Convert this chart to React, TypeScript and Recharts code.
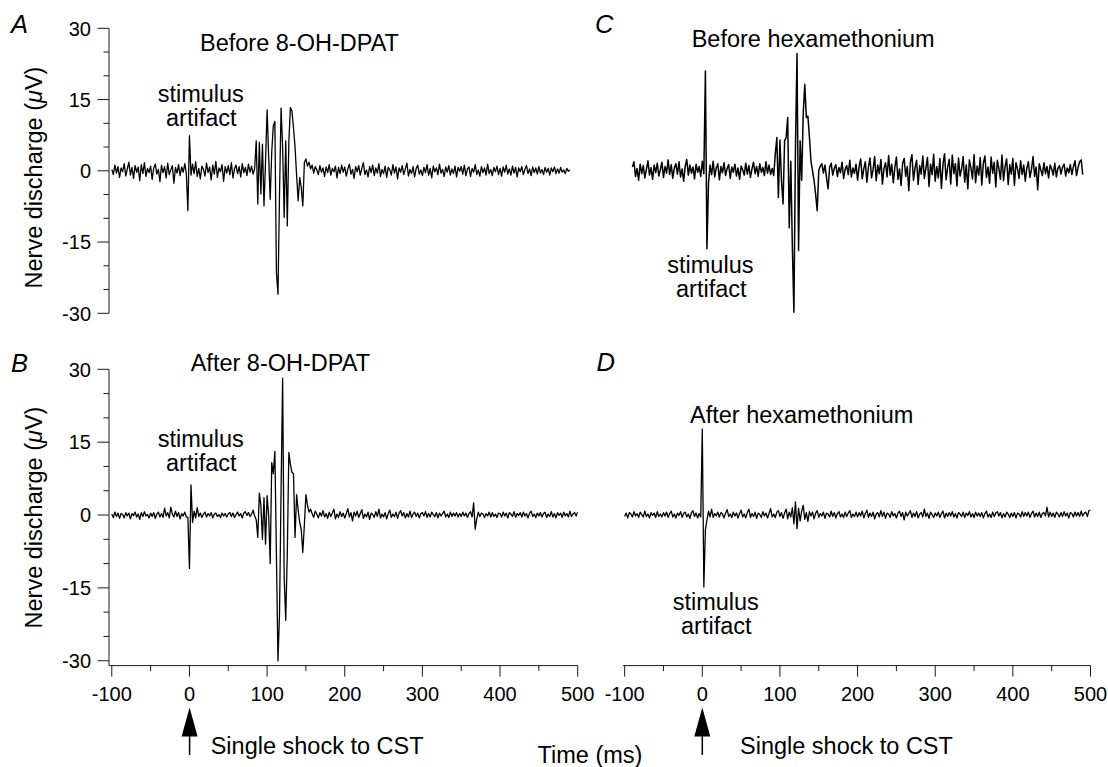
import React from 'react';
import { LineChart, Line, XAxis, YAxis } from 'recharts';

const FONT = '"Liberation Sans", Arial, Helvetica, sans-serif';

// sampling interval of the recorded traces (ms)
const STEP_MS = 2;

// Panel A: before 8-OH-DPAT (starts at -100 ms)
const A_START = -100;
const aValues = [
  0.3, -0.8, 1.2, -0.5, 0.9, -1.4, 0.6, -0.2, 1.5, -1.1, 0.4, 1.8, -0.9, 0.7, -1.6, 1.1, -0.3, 0.8, -2.1, 1.3, -0.6, 1.7, -1.2, 0.5, -0.4,
  1.0, -1.8, 0.6, 1.4, -0.7, 0.3, -2.3, 1.2, -0.4, 0.9, -1.5, 1.6, -0.8, 0.2, 1.1, -2.6, 0.7, -0.5, 1.3, -1.0, 0.8, -0.3, 1.5, -0.6, -8.4,
  7.4, -0.9, 1.4, -0.6, 1.9, -1.2, 0.5, -1.7, 1.0, 0.3, -1.1, 1.6, -0.4, 0.8, -1.9, 1.2, -0.7, 2.0, -1.4, 0.6, -0.2, 1.3, -2.2, 0.9, -0.5,
  1.1, -0.8, 1.7, -1.5, 0.4, 1.2, -0.6, 0.9, -1.3, 1.5, -0.4, 0.7, -1.0, 1.4, -0.3, 1.0, -0.7, 0.5, 6.3, -7, 6, -4.9, 5.6, -7.4, 2,
  12.8, 3, -6, 4, 9.5, 10.4, -21.4, -26, -5, 13.2, 5, -9.8, 6.3, -11.6, 6, 13.3, 12.6, 9, 5, -1, -6.3, -1.4, -3.5, -7.4, 1.75,
  2.5, 1.0, 1.8, 0.4, 1.2, -0.5, 0.9, 0.2, -0.8, 1.1, -0.3, 0.6, -1.2, 0.8, -0.4, 1.3, -0.9, 0.5, -0.2, 1.0, -1.5, 0.7, -0.6, 1.2, -0.3,
  0.8, -1.1, 0.4, 1.4, -0.7, 0.3, -1.6, 0.9, -0.2, 1.1, -0.9, 0.5, 1.7, -0.8, 0.2, -1.3, 0.9, -0.4, 1.2, -1.0, 0.6, -0.5, 1.5, -1.2, 0.3,
  -0.6, 1.0, -1.4, 0.7, 0.2, -0.9, 1.3, -0.5, 0.8, -1.7, 0.6, -0.3, 1.1, -0.8, 0.4, 1.6, -1.1, 0.3, -0.6, 0.9, -1.3, 0.5, 1.2, -0.7, 0.2,
  -1.0, 0.7, -0.4, 1.3, -0.9, 0.5, -1.5, 1.0, -0.2, 0.6, -0.8, 1.4, -0.5, 0.3, -1.2, 0.8, -0.3, 1.1, -0.9, 0.4, -0.6, 1.0, -1.3, 0.7, -0.1,
  0.9, -0.7, 1.2, -1.0, 0.4, 0.8, -1.2, 0.5, -0.3, 1.3, -0.8, 0.2, -1.1, 0.9, -0.4, 0.6, -0.9, 1.4, -0.6, 0.3, -1.0, 0.7, -0.2, 1.0, -0.8,
  0.5, -1.1, 0.8, -0.3, 1.2, -0.7, 0.4, -0.9, 1.0, -0.5, 0.7, -1.3, 0.6, -0.2, 0.9, -0.8, 0.3, 1.1, -0.6, 0.4, -1.0, 0.8, -0.4, 0.6, -0.7,
  0.9, -0.5, 0.3, -0.8, 0.7, -0.3, 0.5, -0.9, 0.6, -0.2, 0.8, -0.6, 0.4, -0.5, 0.7, -0.3, 0.2, -0.6, 0.5, -0.1, 0.2,
];

// Panel B: after 8-OH-DPAT
const B_START = -100;
const bValues = [
  0.2, -0.5, 0.6, -0.3, 0.4, -0.7, 0.3, 0.1, -0.6, 0.5, -0.2, 0.4, -0.8, 0.3, -0.1, 0.6, -0.4, 0.2, -0.9, 0.5, -0.3, 0.7, -0.2, 0.1, -0.6,
  0.4, -0.3, 0.5, -0.7, 0.2, 0.6, -0.4, 0.3, -0.5, 1.4, -0.2, 0.5, -0.6, 1.6, 0.2, -0.4, 0.8, -0.3, 0.5, -0.8, 0.3, -0.2, 0.6, -0.4, -0.5,
  -11, 6.2, -1.5, 0.8, -0.6, 1.5, -0.3, 0.4, -0.5, 0.2, 0.6, -0.4, 0.3, -0.2, 0.5, -0.6, 0.2, 0.4, -0.3, 0.1, -0.5, 0.4, -0.2, 0.3, -0.4,
  0.2, 0.5, -0.3, 0.4, -0.5, 0.1, 0.6, -0.2, 0.3, -0.6, 0.4, 0.7, -0.1, 0.5, -0.3, 0.2, 1.0, -0.2, -1, -4.6, 4.5, 2, -5, 3.6, -6,
  4, 0, -10, 10.8, 8.5, 13.1, -8, -30, -20.3, 5, 28.2, -12.8, -21.7, -8, 12.9, 10.5, 8.8, 8.5, -4.6, 4.2, 1, -1.5, -3, -7.7, -2,
  4.2, 2, 0.6, 1.2, 0.3, -0.5, 0.8, 0.2, -0.6, 0.5, -0.2, 0.9, -0.4, 0.3, -0.7, 0.6, -0.3, 0.4, 1.2, -0.8, 0.2, -0.5, 0.7, -0.3, 0.4,
  -0.6, 0.3, 1.3, -0.4, 0.5, -1.2, 0.6, -0.2, 0.8, -0.5, 0.3, 1.1, -0.7, 0.2, -0.4, 0.6, -0.9, 0.4, 0.1, -0.5, 0.7, -0.3, 1.2, -0.6, 0.2,
  -0.4, 0.5, -0.8, 0.3, 1.0, -0.5, 0.2, -0.3, 0.6, -0.7, 0.4, 0.9, -0.2, 0.5, -0.6, 0.3, -0.4, 0.8, -0.5, 0.2, 0.6, -0.3, 0.4, -0.6, 0.3,
  0.5, -0.2, 0.7, -0.5, 0.3, -0.4, 0.6, 0.1, -0.3, 0.5, -0.6, 0.4, -0.2, 0.3, 0.8, -0.4, 0.2, -0.5, 0.6, -0.3, 0.4, -0.2, 0.5, -0.4, 0.3,
  -0.3, 0.6, -0.2, 0.4, -0.5, 0.3, 0.7, -0.4, 2.5, -2.9, -0.8, 0.6, -0.3, 0.4, 0.2, -0.5, 0.3, -0.2, 0.6, -0.4, 0.5, -0.3, 0.2, -0.5, 0.4,
  0.3, -0.4, 0.6, -0.2, 0.4, -0.6, 0.5, 0.2, -0.3, 0.7, -0.5, 0.3, -0.1, 0.5, -0.4, 0.6, -0.2, 0.3, -0.6, 0.4, 0.8, -0.3, 0.2, -0.5, 0.4,
  -0.2, 0.5, -0.4, 0.3, 0.6, -0.5, 0.2, -0.3, 0.7, -0.4, 0.3, -0.6, 0.5, -0.1, 0.4, -0.5, 0.6, -0.2, 0.3, -0.4, 0.8, -0.3, 0.2, 0.5, -0.2,
  0.6,
];

// Panel C: before hexamethonium (starts at -90 ms)
const C_START = -90;
const cValues = [
  0.8, 1.9, -1.2, 0.5, -2.0, 1.4, -0.6, 1.1, -1.5, 0.3, 2.1, -0.9, 0.7, -1.8, 1.2, -0.4, 1.6, -1.1, 0.2, 1.8, -1.4, 0.9, -0.5, 2.3, -0.8,
  1.3, -1.6, 0.6, 1.5, -0.7, 1.9, -1.3, 0.4, -2.2, 1.0, 2.4, -0.9, 1.2, -0.5, 0.8, -1.7, 1.4, -0.3, 0.9, -1.2, 2.0, -0.6, 21, -16.4, -2.5,
  1.2, -0.8, 2.0, -1.3, 0.6, 1.5, -1.9, 0.9, -0.4, 1.7, -1.0, 0.5, 1.3, -1.6, 0.8, -0.3, 1.4, -1.1, 0.6, -1.8, 1.0, 0.2, -0.9, 1.6, -0.7,
  1.1, -1.4, 0.4, 1.8, -0.6, 0.9, -1.2, 1.5, -0.3, 0.7, -1.0, 1.9, -0.5, 1.2, -0.8, 0.5, -1, 3.5, 7, -5.6, 6.5, -2.1, -7, 6.3, 7,
  11.2, -12, 2, -16, -29.8, 5, 24.7, -16.8, 6.3, -2, 12, 18.2, 11.2, 11.5, 7, 2, 0, -2.1, -5, -8.4, 0, 1, 1.5, -0.5, 1.2,
  -1.5, -3.8, 0.8, 1.6, -0.9, 0.5, 1.3, -1.2, 0.7, -0.4, 1.8, -1.6, 0.3, 1.1, -0.8, 2.2, -1.3, 0.6, -0.5, 1.4, -2.0, 0.9, 2.5, -1.7, 0.4,
  1.9, -2.4, 0.8, 2.7, -1.5, 0.3, 3.0, -2.1, 1.2, -0.6, 2.4, -2.8, 0.5, 1.7, -1.3, 3.2, -0.9, 1.4, -2.5, 0.7, 2.9, -1.8, 0.4, -3.1, 1.6,
  2.6, -1.2, 0.9, -4.2, 1.8, 3.4, -2.0, 0.6, 2.2, -2.9, 1.1, -0.7, 3.1, -1.6, 0.5, 2.8, -3.3, 1.4, -0.8, 3.5, -2.2, 0.9, -1.5, 2.6, -3.7,
  1.3, 3.6, -1.9, 0.7, 2.4, -2.8, 3.3, -0.6, 1.5, -3.2, 2.7, -1.1, 0.4, 3.0, -2.4, 1.2, -3.8, 2.3, 0.6, -1.7, 3.4, -2.5, 1.0, -0.9, 2.8,
  -3.0, 1.6, 3.1, -1.4, 0.8, -2.6, 2.9, -0.5, 1.8, -3.4, 2.2, 0.5, -1.8, 3.3, -2.1, 0.9, 2.5, -2.9, 1.3, -0.7, 2.6, -3.1, 1.7, 0.4, -1.6,
  2.1, -0.8, 1.2, -2.2, 0.6, 1.9, -1.4, 0.3, 3.0, -1.2, 0.8, -4.0, 1.5, 0.2, -1.0, 1.7, -0.6, 0.9, -1.5, 1.2, 0.4, -0.9, 1.6, -1.3, 0.5,
  1.1, -0.7, 0.8, 1.4, -1.1, 0.6, -0.4, 1.3, -0.8, 0.9, 2.1, -1.0, 0.7, 1.9, 2.3, -0.8,
];

// Panel D: after hexamethonium
const D_START = -100;
const dValues = [
  -0.3, 0.4, -0.6, 0.5, 0.2, -0.4, 0.7, -0.2, 0.3, -0.5, 0.6, 0.1, -0.4, 0.8, -0.3, 0.2, -0.6, 0.5, -0.1, 0.4, -0.5, 0.7, -0.3, 0.2, -0.4,
  0.5, -0.2, 0.6, -0.5, 0.3, 0.8, -0.4, 0.2, -0.6, 0.4, -0.1, 0.7, -0.5, 0.3, 0.6, -0.4, 0.2, -0.7, 0.5, 0.9, -0.3, 0.4, -0.6, 0.3, -0.4,
  17.7, -14.8, -3, -1, 0.8, -0.4, 1.2, -0.5, 0.3, -0.2, 0.6, -0.4, 0.5, 0.2, -0.6, 0.4, 1.1, -0.3, 0.2, -0.5, 0.6, -0.2, 0.4, -0.6, 0.3,
  1.0, -0.4, 0.2, -0.6, 0.5, 1.2, -0.5, 0.3, -0.3, 0.6, -0.7, 0.4, 0.1, -0.5, 0.7, -0.2, 0.4, -0.6, 0.3, 1.3, -0.4, 0.2, -0.5, 0.6, 0.9,
  -0.3, 0.5, -0.7, 0.4, 1.2, -0.8, 0.6, -0.4, 1.5, -1.8, 2.7, -2.8, 1.4, -1.2, 0.8, 2.0, -0.9, 0.5, -1.3, 0.7, -0.2, 0.6, -0.8, 0.4, 0.9,
  -0.5, 0.3, -0.2, 0.6, -0.7, 0.4, 0.2, -0.4, 0.8, -0.3, 0.5, -0.6, 0.3, 0.7, -0.4, 0.2, -0.5, 0.6, -0.3, 0.4, 0.9, -0.5, 0.2, -0.3, 0.6,
  -0.4, 0.5, -0.2, 0.8, -0.6, 0.3, 1.0, -0.5, 0.4, -0.3, 0.6, -0.8, 0.2, 0.5, -0.4, 0.9, -0.3, 0.6, -0.7, 0.4, 0.2, -0.5, 0.7, -0.2, 0.3,
  -0.6, 0.4, 0.8, -0.3, 0.5, -1.0, 0.6, -0.2, 0.3, 0.9, -0.5, 0.4, -0.3, 0.7, -0.6, 0.2, 0.5, -0.4, 1.2, -0.3, 0.4, -0.7, 0.6, 0.1, -0.5,
  0.4, -0.2, 0.6, -0.5, 0.3, 0.8, -0.6, 0.4, -0.3, 0.5, -0.2, 0.7, -0.4, 0.3, -0.6, 0.5, 0.2, -0.3, 0.6, -0.5, 0.4, -0.1, 0.7, -0.4, 0.3,
  -0.5, 0.6, -0.2, 0.4, -0.3, 0.5, -0.6, 0.3, 0.8, -0.4, 0.2, -0.5, 0.6, -0.3, 0.4, 0.7, -0.2, 0.5, -0.6, 0.3, -0.4, 0.6, 0.2, -0.5, 0.4,
  -0.3, 0.5, -0.6, 0.4, 0.2, -0.4, 0.7, -0.3, 0.5, -0.2, 0.6, -0.5, 0.3, 0.8, -0.4, 0.4, -0.3, 0.6, -0.5, 0.3, 0.5, -0.2, 1.6, -0.4, 0.6,
  -0.3, 0.4, -0.5, 0.6, 0.2, -0.4, 0.5, -0.3, 0.7, -0.2, 0.4, -0.6, 0.5, 0.3, -0.4, 0.6, -0.2, 0.5, -0.3, 0.8, -0.2, 0.4, 0.6, -0.3, 0.9,
  1.0,
];

// Axis ticks
const X_TICKS = [-100, -50, 0, 50, 100, 150, 200, 250, 300, 350, 400, 450, 500];
const X_LABEL_STEP = 100;
const Y_TICKS = [-30, -25, -20, -15, -10, -5, 0, 5, 10, 15, 20, 25, 30];
const Y_LABEL_STEP = 15;

const toSeries = (start: number, values: number[]) =>
  values.map((v, i) => ({ t: start + i * STEP_MS, v }));

const dataA = toSeries(A_START, aValues);
const dataB = toSeries(B_START, bValues);
const dataC = toSeries(C_START, cValues);
const dataD = toSeries(D_START, dValues);

const AXIS_COLOR = '#1a1a1a';

const XTick = (props: any) => {
  const { x, y, payload } = props;
  const major = payload.value % X_LABEL_STEP === 0;
  return (
    <g>
      <line x1={x} x2={x} y1={y} y2={y + (major ? 11 : 5.5)} stroke={AXIS_COLOR} strokeWidth={1} />
      {major && (
        <text x={x} y={y + 35.5} textAnchor="middle" fontSize={20} fontFamily={FONT} fill="#000">
          {payload.value}
        </text>
      )}
    </g>
  );
};

const YTick = (props: any) => {
  const { x, y, payload } = props;
  const major = payload.value % Y_LABEL_STEP === 0;
  return (
    <g>
      <line x1={x - (major ? 11.5 : 5.5)} x2={x} y1={y} y2={y} stroke={AXIS_COLOR} strokeWidth={1} />
      {major && (
        <text x={x - 18} y={y + 7.2} textAnchor="end" fontSize={20} fontFamily={FONT} fill="#000">
          {payload.value}
        </text>
      )}
    </g>
  );
};

const W = 1108;
const H = 767;

const layer: React.CSSProperties = { position: 'absolute', left: 0, top: 0, width: W, height: H };

type PanelProps = {
  data: { t: number; v: number }[];
  margin: { top: number; right: number; bottom: number; left: number };
  xDomain: [number, number];
  yDomain: [number, number];
  showX: boolean;
  showY: boolean;
  strokeWidth: number;
};

const Panel = ({ data, margin, xDomain, yDomain, showX, showY, strokeWidth }: PanelProps) => (
  <div style={layer}>
    <LineChart width={W} height={H} data={data} margin={margin}>
      <XAxis
        dataKey="t"
        type="number"
        domain={xDomain}
        allowDataOverflow
        ticks={X_TICKS}
        interval={0}
        hide={!showX}
        height={40}
        tickSize={0}
        tickMargin={0}
        axisLine={{ stroke: AXIS_COLOR, strokeWidth: 1 }}
        tickLine={false}
        tick={(p: any) => <XTick {...p} />}
      />
      <YAxis
        type="number"
        domain={yDomain}
        allowDataOverflow
        ticks={Y_TICKS}
        interval={0}
        hide={!showY}
        width={109}
        tickSize={0}
        tickMargin={0}
        axisLine={{ stroke: AXIS_COLOR, strokeWidth: 1 }}
        tickLine={false}
        tick={(p: any) => <YTick {...p} />}
      />
      <Line
        type="linear"
        dataKey="v"
        stroke="#000"
        strokeWidth={strokeWidth}
        dot={false}
        activeDot={false}
        isAnimationActive={false}
        strokeLinejoin="round"
      />
    </LineChart>
  </div>
);

const txt = { fontFamily: FONT, fontSize: 23.5, fill: '#000' };
const letter = { fontFamily: FONT, fontSize: 25.5, fontStyle: 'italic' as const, fill: '#000' };

const Arrow = ({ x }: { x: number }) => (
  <g>
    <polygon points={`${x},707.5 ${x - 8},736.5 ${x + 8},736.5`} fill="#000" />
    <line x1={x} x2={x} y1={736} y2={755} stroke="#000" strokeWidth={1.5} />
  </g>
);

const YTitle = ({ cx, cy }: { cx: number; cy: number }) => (
  <text
    transform={`translate(${cx},${cy}) rotate(-90)`}
    textAnchor="middle"
    {...txt}
  >
    Nerve discharge (<tspan fontStyle="italic">μ</tspan>V)
  </text>
);

export default function App() {
  const leftX: [number, number] = [-103.6, 500];
  const rightX: [number, number] = [-102, 500];
  return (
    <div style={{ position: 'absolute', left: 0, top: 0, width: W, height: H, overflow: 'hidden', background: '#fff' }}>
      <Panel
        data={dataA}
        margin={{ top: 28.3, right: 530.3, bottom: 453.7, left: 0 }}
        xDomain={leftX}
        yDomain={[-30, 30]}
        showX={false}
        showY
        strokeWidth={1.3}
      />
      <Panel
        data={dataB}
        margin={{ top: 369.3, right: 530.3, bottom: 61.4, left: 0 }}
        xDomain={leftX}
        yDomain={[-31, 30]}
        showX
        showY
        strokeWidth={1.3}
      />
      <Panel
        data={dataC}
        margin={{ top: 28.3, right: 17.5, bottom: 453.7, left: 623.1 }}
        xDomain={rightX}
        yDomain={[-30, 30]}
        showX={false}
        showY={false}
        strokeWidth={1.5}
      />
      <Panel
        data={dataD}
        margin={{ top: 369.3, right: 17.5, bottom: 61.4, left: 623.1 }}
        xDomain={rightX}
        yDomain={[-31, 30]}
        showX
        showY={false}
        strokeWidth={1.3}
      />
      <svg width={W} height={H} style={{ position: 'absolute', left: 0, top: 0, pointerEvents: 'none' }}>
        <text x={11} y={33} {...letter}>A</text>
        <text x={11} y={371.5} {...letter}>B</text>
        <text x={595} y={33} {...letter}>C</text>
        <text x={596.5} y={370.5} {...letter}>D</text>

        <YTitle cx={42} cy={177.5} />
        <YTitle cx={42} cy={517.5} />

        <text x={200} y={51} {...txt}>Before 8-OH-DPAT</text>
        <text x={190.7} y={371} {...txt}>After 8-OH-DPAT</text>
        <text x={691.7} y={46.7} {...txt}>Before hexamethonium</text>
        <text x={690} y={422.7} {...txt}>After hexamethonium</text>

        <text x={157.7} y={101.7} {...txt}>stimulus</text>
        <text x={166} y={126} {...txt}>artifact</text>
        <text x={157.7} y={446.7} {...txt}>stimulus</text>
        <text x={166} y={471} {...txt}>artifact</text>
        <text x={667.3} y={272.8} {...txt}>stimulus</text>
        <text x={676} y={297.4} {...txt}>artifact</text>
        <text x={672.7} y={609.6} {...txt}>stimulus</text>
        <text x={681} y={634.2} {...txt}>artifact</text>

        <Arrow x={189.6} />
        <Arrow x={702.3} />
        <text x={210.7} y={753.6} {...txt}>Single shock to CST</text>
        <text x={740} y={753.6} {...txt}>Single shock to CST</text>
        <text x={537.5} y={763} {...txt}>Time (ms)</text>
      </svg>
    </div>
  );
}
